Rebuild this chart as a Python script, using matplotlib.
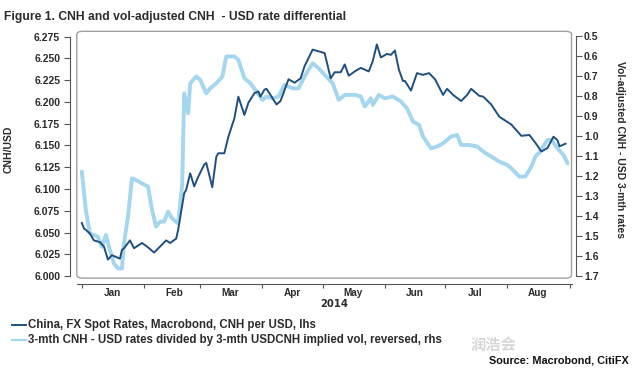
import matplotlib
matplotlib.use('Agg')
import matplotlib.pyplot as plt
import matplotlib.dates as mdates
from matplotlib.patches import FancyBboxPatch
import pandas as pd

# CNH per USD spot (lhs)
spot_dates = ['2014-01-01', '2014-01-02', '2014-01-05', '2014-01-07', '2014-01-10', '2014-01-12',
              '2014-01-14', '2014-01-16', '2014-01-17', '2014-01-20', '2014-01-21', '2014-01-22',
              '2014-01-25', '2014-01-27', '2014-01-31', '2014-02-03', '2014-02-06', '2014-02-09',
              '2014-02-12', '2014-02-14', '2014-02-17', '2014-02-18', '2014-02-21', '2014-02-22',
              '2014-02-24', '2014-02-26', '2014-02-28', '2014-03-03', '2014-03-04', '2014-03-07',
              '2014-03-09', '2014-03-10', '2014-03-13', '2014-03-15', '2014-03-18', '2014-03-20',
              '2014-03-23', '2014-03-25', '2014-03-28', '2014-03-30', '2014-03-31', '2014-04-02',
              '2014-04-03', '2014-04-05', '2014-04-08', '2014-04-10', '2014-04-14', '2014-04-17',
              '2014-04-20', '2014-04-22', '2014-04-26', '2014-04-29', '2014-05-02', '2014-05-05',
              '2014-05-07', '2014-05-10', '2014-05-12', '2014-05-14', '2014-05-17', '2014-05-20',
              '2014-05-24', '2014-05-26', '2014-05-28', '2014-05-30', '2014-06-02', '2014-06-04',
              '2014-06-06', '2014-06-08', '2014-06-10', '2014-06-11', '2014-06-14', '2014-06-17',
              '2014-06-20', '2014-06-23', '2014-06-26', '2014-06-30', '2014-07-02', '2014-07-05',
              '2014-07-09', '2014-07-12', '2014-07-14', '2014-07-18', '2014-07-20', '2014-07-24',
              '2014-07-28', '2014-07-30', '2014-08-03', '2014-08-08', '2014-08-12', '2014-08-15',
              '2014-08-18', '2014-08-21', '2014-08-24', '2014-08-26', '2014-08-27', '2014-08-30']
spot = [6.061, 6.055, 6.049, 6.041, 6.039, 6.034,
        6.019, 6.024, 6.023, 6.020, 6.030, 6.032,
        6.041, 6.032, 6.038, 6.033, 6.027, 6.034,
        6.041, 6.038, 6.043, 6.053, 6.095, 6.099,
        6.118, 6.103, 6.114, 6.128, 6.130, 6.102,
        6.137, 6.141, 6.141, 6.160, 6.181, 6.206,
        6.185, 6.199, 6.210, 6.212, 6.206, 6.214,
        6.215, 6.208, 6.197, 6.201, 6.226, 6.222,
        6.227, 6.241, 6.260, 6.258, 6.256, 6.227,
        6.234, 6.234, 6.243, 6.230, 6.235, 6.239,
        6.235, 6.247, 6.266, 6.251, 6.255, 6.254,
        6.259, 6.237, 6.224, 6.224, 6.213, 6.233,
        6.231, 6.233, 6.226, 6.208, 6.215, 6.208,
        6.201, 6.208, 6.215, 6.207, 6.206, 6.197,
        6.183, 6.180, 6.174, 6.161, 6.162, 6.153,
        6.143, 6.147, 6.160, 6.156, 6.149, 6.152]

# vol-adjusted 3m rate differential (rhs, reversed)
vol_dates = ['2014-01-01', '2014-01-03', '2014-01-05', '2014-01-07', '2014-01-09', '2014-01-11',
             '2014-01-13', '2014-01-15', '2014-01-17', '2014-01-19', '2014-01-21', '2014-01-22',
             '2014-01-24', '2014-01-26', '2014-01-28', '2014-01-31', '2014-02-03', '2014-02-05',
             '2014-02-07', '2014-02-09', '2014-02-11', '2014-02-13', '2014-02-15', '2014-02-18',
             '2014-02-20', '2014-02-21', '2014-02-23', '2014-02-24', '2014-02-27', '2014-03-01',
             '2014-03-04', '2014-03-06', '2014-03-09', '2014-03-12', '2014-03-14', '2014-03-18',
             '2014-03-20', '2014-03-23', '2014-03-26', '2014-03-29', '2014-04-01', '2014-04-03',
             '2014-04-06', '2014-04-09', '2014-04-12', '2014-04-16', '2014-04-19', '2014-04-22',
             '2014-04-26', '2014-04-29', '2014-05-02', '2014-05-06', '2014-05-09', '2014-05-12',
             '2014-05-17', '2014-05-20', '2014-05-22', '2014-05-25', '2014-05-26', '2014-05-29',
             '2014-06-01', '2014-06-05', '2014-06-09', '2014-06-12', '2014-06-15', '2014-06-18',
             '2014-06-20', '2014-06-24', '2014-06-27', '2014-06-30', '2014-07-04', '2014-07-07',
             '2014-07-09', '2014-07-13', '2014-07-17', '2014-07-20', '2014-07-24', '2014-07-28',
             '2014-08-01', '2014-08-03', '2014-08-07', '2014-08-10', '2014-08-13', '2014-08-15',
             '2014-08-17', '2014-08-21', '2014-08-23', '2014-08-26', '2014-08-29', '2014-08-31']
vol = [1.178, 1.370, 1.487, 1.495, 1.503, 1.553,
       1.495, 1.570, 1.637, 1.662, 1.662, 1.537,
       1.403, 1.212, 1.220, 1.237, 1.253, 1.370,
       1.453, 1.428, 1.428, 1.378, 1.412, 1.437,
       1.245, 0.787, 0.887, 0.737, 0.703, 0.720,
       0.787, 0.762, 0.737, 0.703, 0.603, 0.603,
       0.620, 0.712, 0.737, 0.778, 0.820, 0.803,
       0.812, 0.803, 0.745, 0.762, 0.762, 0.703,
       0.637, 0.662, 0.695, 0.737, 0.820, 0.795,
       0.795, 0.803, 0.853, 0.812, 0.845, 0.795,
       0.812, 0.803, 0.828, 0.862, 0.928, 0.945,
       1.003, 1.062, 1.053, 1.037, 1.003, 0.995,
       1.045, 1.045, 1.053, 1.078, 1.103, 1.128,
       1.145, 1.162, 1.203, 1.203, 1.153, 1.103,
       1.083, 1.020, 1.020, 1.062, 1.095, 1.137]

left_ticks = [6.000, 6.025, 6.050, 6.075, 6.100, 6.125, 6.150, 6.175, 6.200, 6.225, 6.250, 6.275]
right_ticks = [0.5, 0.6, 0.7, 0.8, 0.9, 1.0, 1.1, 1.2, 1.3, 1.4, 1.5, 1.6, 1.7]

DARK = '#1f4f7f'
LIGHT = '#a4d6f0'
TXT = '#2b2b2b'

plt.rcParams['font.family'] = ['Liberation Sans', 'DejaVu Sans']
plt.rcParams['font.weight'] = 'bold'
AXFONT = ['DejaVu Sans']   # wider glyphs for the axis texts

fig = plt.figure(figsize=(6.4, 3.82), dpi=100)
ax = fig.add_axes([0.120, 0.272, 0.773, 0.646])
ax2 = ax.twinx()

ax2.plot(pd.to_datetime(vol_dates), vol, color=LIGHT, lw=2.8, solid_capstyle='round')
ax.plot(pd.to_datetime(spot_dates), spot, color=DARK, lw=1.4)
ax.set_zorder(ax2.get_zorder() + 1)
ax.patch.set_visible(False)

ax.set_xlim(pd.Timestamp('2013-12-29 12:00'), pd.Timestamp('2014-09-02'))
ax.set_ylim(5.9977, 6.281)
ax2.set_ylim(1.71, 0.4775)

ax.set_yticks(left_ticks)
ax.set_yticklabels([f'{v:.3f}' for v in left_ticks], family=AXFONT)
ax2.set_yticks(right_ticks)
ax2.set_yticklabels([f'{v:.1f}' for v in right_ticks], family=AXFONT)

ax.xaxis.set_major_locator(mdates.MonthLocator())
ax.xaxis.set_major_formatter(plt.NullFormatter())
ax.xaxis.set_minor_locator(mdates.MonthLocator(bymonthday=16))
ax.xaxis.set_minor_formatter(mdates.DateFormatter('%b'))
for lab in ax.xaxis.get_minorticklabels():
    lab.set_family(AXFONT)
ax.tick_params(axis='x', which='minor', length=0, pad=3, labelsize=7.2, labelcolor=TXT)
ax.tick_params(axis='x', which='major', length=3, color='#555')
ax.tick_params(axis='y', length=4, color='#555', labelsize=7.5, labelcolor=TXT, pad=3)
ax2.tick_params(axis='y', length=4, color='#555', labelsize=7.5, labelcolor=TXT, pad=2)

for a in (ax, ax2):
    for s in a.spines.values():
        s.set_visible(False)
ax.spines['left'].set_visible(True)
ax.spines['left'].set_position(('outward', 5))
ax.spines['left'].set_bounds(6.000, 6.275)
ax.spines['bottom'].set_visible(True)
ax.spines['bottom'].set_position(('outward', 4))
ax2.spines['right'].set_visible(True)
ax2.spines['right'].set_position(('outward', 3))
ax2.spines['right'].set_bounds(1.7, 0.5)
for s in (ax.spines['left'], ax.spines['bottom'], ax2.spines['right']):
    s.set_color('#555')
    s.set_linewidth(0.8)

frame = FancyBboxPatch((0, 0), 1, 1, boxstyle='round,pad=0,rounding_size=0.012',
                       transform=ax.transAxes, fill=False, ec='#a0a0a0', lw=1.0, clip_on=False)
ax.add_patch(frame)

ax.set_ylabel('CNH/USD', fontsize=7.5, color=TXT, fontweight='bold')
ax.yaxis.set_label_coords(-0.128, 0.52)
ax2.set_ylabel('Vol-adjusted CNH - USD 3-mth rates', rotation=270, fontsize=7.5,
               color=TXT, fontweight='bold')
ax2.yaxis.set_label_coords(1.108, 0.52)

fig.text(0.006, 0.955, 'Figure 1. CNH and vol-adjusted CNH  - USD rate differential',
         fontsize=8.7, color=TXT, va='center')
fig.text(0.522, 0.204, '2014', family=AXFONT, fontsize=7.2, color=TXT, ha='center', va='center')

fig.lines.append(plt.Line2D([0.019, 0.041], [0.149, 0.149], color=DARK, lw=1.4, transform=fig.transFigure))
fig.lines.append(plt.Line2D([0.019, 0.041], [0.110, 0.110], color=LIGHT, lw=1.6, transform=fig.transFigure))
fig.text(0.043, 0.149, 'China, FX Spot Rates, Macrobond, CNH per USD, lhs',
         fontsize=8.3, color=TXT, va='center')
fig.text(0.043, 0.110, '3-mth CNH - USD rates divided by 3-mth USDCNH implied vol, reversed, rhs',
         fontsize=8.3, color=TXT, va='center')
fig.text(0.982, 0.057, 'Source: Macrobond, CitiFX', fontsize=7.8, color='#111',
         ha='right', va='center')
fig.text(0.735, 0.098, '润浩会', fontsize=11, color='#cccccc', alpha=0.8,
         family=['Noto Sans CJK SC', 'DejaVu Sans'], va='center')

fig.savefig('out.png', dpi=100)
